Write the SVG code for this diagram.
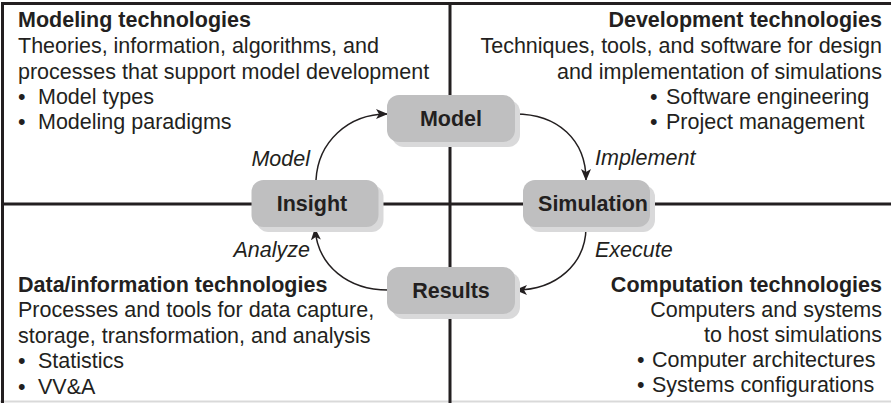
<svg xmlns="http://www.w3.org/2000/svg" width="891" height="403" viewBox="0 0 891 403">
<style>
text{font-family:"Liberation Sans",Arial,sans-serif;fill:#231f20;font-size:21.5px}
.h{font-weight:bold}
.lbl{font-style:italic}
.node{font-weight:bold;text-anchor:middle}
.end{text-anchor:end}
.frame{stroke:#231f20;stroke-width:3;fill:none}
.box{fill:#bfbfc0}
.shadow{fill:#d9d9da}
.conn{fill:none;stroke:#231f20;stroke-width:1.5;marker-end:url(#ah)}
</style>
<defs>
<marker id="ah" viewBox="0 0 12 10" refX="11" refY="5" markerWidth="12" markerHeight="10" markerUnits="userSpaceOnUse" orient="auto">
<path d="M0,0 L12,5 L0,10 L3,5 Z" fill="#231f20"/>
</marker>
</defs>
<rect width="891" height="403" fill="#ffffff"/>
<line x1="0" y1="401.5" x2="891" y2="401.5" stroke="#d9d9d9" stroke-width="2"/>
<path class="frame" d="M2.5,403 V3.5 H891"/>
<line class="frame" x1="450" y1="2" x2="450" y2="403"/>
<line class="frame" x1="2" y1="204" x2="891" y2="204"/>

<g id="q-modeling">
<text class="h" x="18" y="27">Modeling technologies</text>
<text x="18" y="52.5">Theories, information, algorithms, and</text>
<text x="18" y="78.5">processes that support model development</text>
<text x="18" y="103.5">•<tspan x="38">Model types</tspan></text>
<text x="18" y="128.5">•<tspan x="38">Modeling paradigms</tspan></text>
</g>
<g id="q-development">
<text class="h end" x="882" y="27">Development technologies</text>
<text class="end" x="882" y="52.5">Techniques, tools, and software for design</text>
<text class="end" x="882" y="78.5">and implementation of simulations</text>
<text x="650" y="103.5">•<tspan x="666">Software engineering</tspan></text>
<text x="650" y="128.5">•<tspan x="666">Project management</tspan></text>
</g>
<g id="q-data">
<text class="h" x="18" y="291.5">Data/information technologies</text>
<text x="18" y="317">Processes and tools for data capture,</text>
<text x="18" y="342.5">storage, transformation, and analysis</text>
<text x="18" y="368">•<tspan x="38">Statistics</tspan></text>
<text x="18" y="393.5">•<tspan x="38">VV&amp;A</tspan></text>
</g>
<g id="q-computation">
<text class="h end" x="882" y="291.5">Computation technologies</text>
<text class="end" x="882" y="317">Computers and systems</text>
<text class="end" x="882" y="342">to host simulations</text>
<text x="637" y="367">•<tspan x="652">Computer architectures</tspan></text>
<text x="637" y="392">•<tspan x="652">Systems configurations</tspan></text>
</g>

<g id="connectors">
<path class="conn" d="M515,114 C558,114 586,140 586,180"/>
<path class="conn" d="M586,227 C586,264 556,290 516,290"/>
<path class="conn" d="M388,290 C348,290 318,266 315,229"/>
<path class="conn" d="M316,180 C318,142 348,114 387,114"/>
<text class="lbl end" x="310" y="166">Model</text>
<text class="lbl" x="595" y="165">Implement</text>
<text class="lbl end" x="310" y="257">Analyze</text>
<text class="lbl" x="595" y="257">Execute</text>
</g>

<g id="n-model">
<rect class="shadow" x="392" y="100" width="128" height="47" rx="12"/>
<rect class="box" x="387" y="95" width="128" height="47" rx="12"/>
<text class="node" x="451" y="126">Model</text>
</g>
<g id="n-insight">
<rect class="shadow" x="256.5" y="185" width="127" height="47" rx="12"/>
<rect class="box" x="251.5" y="180" width="127" height="47" rx="12"/>
<text class="node" x="312" y="211">Insight</text>
</g>
<g id="n-simulation">
<rect class="shadow" x="528" y="185" width="127" height="47" rx="12"/>
<rect class="box" x="523" y="180" width="127" height="47" rx="12"/>
<text class="node" x="593" y="211">Simulation</text>
</g>
<g id="n-results">
<rect class="shadow" x="392" y="272" width="128" height="47" rx="12"/>
<rect class="box" x="387" y="267" width="128" height="47" rx="12"/>
<text class="node" x="451" y="298">Results</text>
</g>
</svg>
